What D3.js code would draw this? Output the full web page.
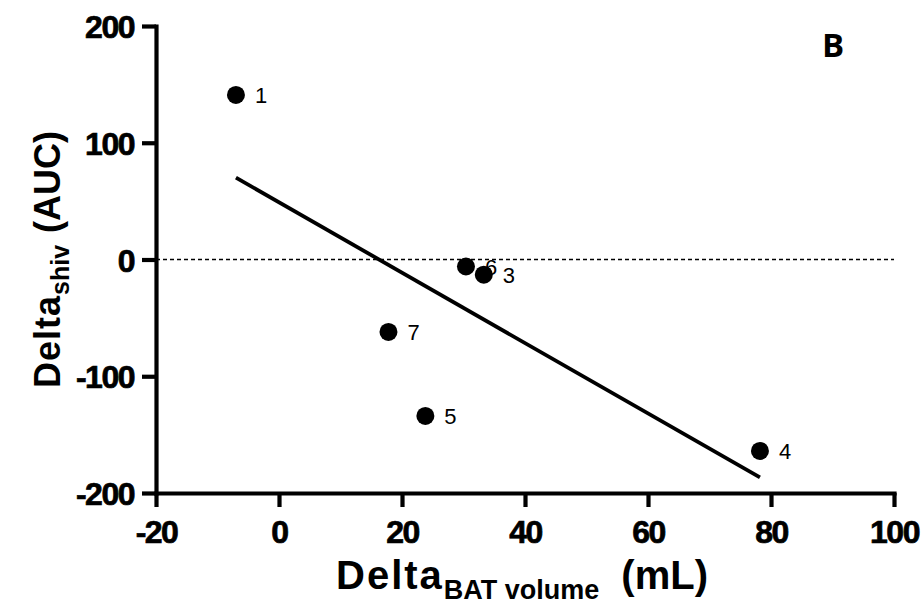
<!DOCTYPE html>
<html>
<head>
<meta charset="utf-8">
<script src="https://cdn.jsdelivr.net/npm/d3@7"></script>
<style>
  body { margin: 0; background: #fff; }
  svg { display: block; }
</style>
</head>
<body>
<div id="chart"></div>
<script>
// subject ids, x = delta BAT volume (mL), y = delta shiv (AUC)
const subjects = ["1", "3", "4", "5", "6", "7"];
const batVolume = [-7, 33.3, 78.2, 23.8, 30.4, 17.8];
const shivAuc = [141, -13, -164, -134, -6, -62];
const xTicks = [-20, 0, 20, 40, 60, 80, 100];
const yTicks = [-200, -100, 0, 100, 200];

const width = 923, height = 607;
const margin = { top: 26, right: 29, bottom: 114, left: 156 };

const svg = d3.select("#chart").append("svg")
    .attr("width", width)
    .attr("height", height)

const x = d3.scaleLinear().domain([-20, 100]).range([margin.left, width - margin.right]);
const y = d3.scaleLinear().domain([-200, 200]).range([height - margin.bottom, margin.top]);

// least squares fit, drawn over the range of the data
const mx = d3.mean(batVolume), my = d3.mean(shivAuc);
const slope = d3.sum(batVolume, (v, i) => (v - mx) * (shivAuc[i] - my)) / d3.sum(batVolume, v => (v - mx) * (v - mx));
const intercept = my - slope * mx;
const xExt = d3.extent(batVolume);

// zero line
svg.append("line")
    .attr("x1", x(-20)).attr("x2", x(100))
    .attr("y1", y(0)).attr("y2", y(0))
    .attr("stroke", "#000")
    .attr("stroke-width", 1.3)
    .attr("stroke-dasharray", "4,3")

svg.append("line")
    .attr("x1", x(xExt[0])).attr("y1", y(intercept + slope * xExt[0]))
    .attr("x2", x(xExt[1])).attr("y2", y(intercept + slope * xExt[1]))
    .attr("stroke", "#000")
    .attr("stroke-width", 3.8)

const fmt = d => String(d);
const xAxis = svg.append("g")
    .attr("transform", `translate(0,${y(-200)})`)
    .call(d3.axisBottom(x).tickValues(xTicks).tickFormat(fmt).tickSize(14).tickPadding(13).tickSizeOuter(0))
const yAxis = svg.append("g")
    .attr("transform", `translate(${x(-20)},0)`)
    .call(d3.axisLeft(y).tickValues(yTicks).tickFormat(fmt).tickSize(14).tickPadding(8).tickSizeOuter(0))

;[xAxis, yAxis].forEach(g => {
    g.select(".domain").attr("stroke-width", 4.2).attr("stroke-linecap", "square")
    g.selectAll(".tick line").attr("stroke-width", 4.2)
    g.selectAll(".tick text")
        .attr("fill", "#000")
        .attr("stroke", "#000")
        .attr("stroke-width", 0.7)
        .style("font-family", "'Liberation Sans', Arial, sans-serif")
        .style("font-weight", "bold")
        .style("font-size", "32px")
        .style("letter-spacing", "-1.5px")
})
xAxis.selectAll(".tick text").attr("dy", "0.72em")
yAxis.selectAll(".tick text").attr("dy", "0.36em")

svg.selectAll("circle.pt")
    .data(subjects)
    .join("circle")
    .attr("class", "pt")
    .attr("cx", (d, i) => x(batVolume[i]))
    .attr("cy", (d, i) => y(shivAuc[i]))
    .attr("r", 9)
    .attr("fill", "#000")

svg.selectAll("text.lbl")
    .data(subjects)
    .join("text")
    .attr("class", "lbl")
    .attr("x", (d, i) => x(batVolume[i]) + 19)
    .attr("y", (d, i) => y(shivAuc[i]) + 8)
    .style("font-family", "'Liberation Sans', Arial, sans-serif")
    .style("font-size", "22px")
    .text(d => d)

// axis titles
const yTitle = svg.append("text")
    .attr("transform", `translate(60,${(y(200) + y(-200)) / 2}) rotate(-90)`)
    .attr("text-anchor", "middle")
    .style("font-family", "'Liberation Sans', Arial, sans-serif")
    .style("font-weight", "bold")
    .style("font-size", "36px")
yTitle.append("tspan").style("letter-spacing", "1px").text("Delta")
yTitle.append("tspan").attr("dy", 9).style("font-size", "25px").text("shiv")
yTitle.append("tspan").attr("dy", -9).attr("dx", 12).text("(AUC)")

const xTitle = svg.append("text")
    .attr("x", 522)
    .attr("y", 589)
    .attr("text-anchor", "middle")
    .style("font-family", "'Liberation Sans', Arial, sans-serif")
    .style("font-weight", "bold")
    .style("font-size", "40px")
xTitle.append("tspan").style("letter-spacing", "2px").text("Delta")
xTitle.append("tspan").attr("dy", 10).style("font-size", "27px").text("BAT volume")
xTitle.append("tspan").attr("dy", -10).attr("dx", 22).text("(mL)")

svg.append("text")
    .attr("x", 822)
    .attr("y", 57)
    .style("font-family", "'Open Sans', sans-serif")
    .style("font-weight", "bold")
    .style("font-size", "33px")
    .text("B")
</script>
</body>
</html>
